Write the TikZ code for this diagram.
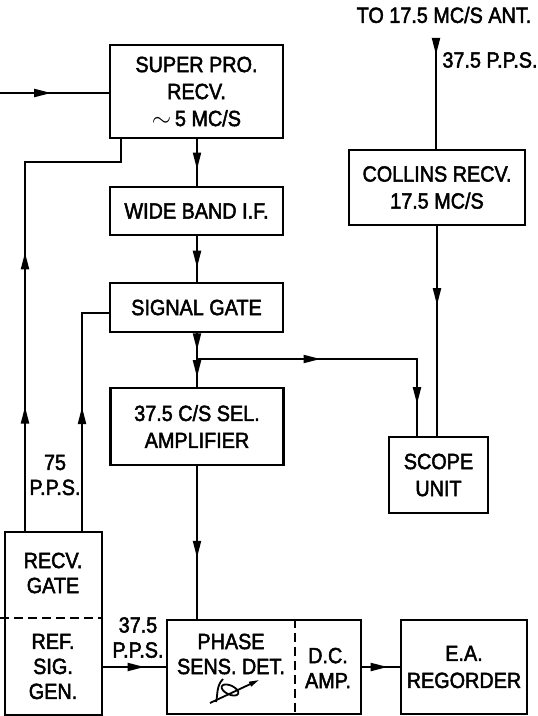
\documentclass[tikz,border=0pt]{standalone}
\usepackage{fontspec}
\setmainfont{Liberation Sans}
\newfontfamily\labfont[FakeStretch=0.9,FakeBold=2.2]{Liberation Sans}
\usetikzlibrary{arrows.meta,decorations.markings}
\tikzset{
  tri/.tip={Triangle[length=17pt,width=8pt]},
  box/.style={draw, line width=2.2pt, inner sep=0pt, align=center,
    font=\labfont\fontsize{22}{27}\selectfont},
  lab/.style={inner sep=0pt, align=center, font=\labfont\fontsize{22}{25}\selectfont},
  wire/.style={line width=2pt},
  arr/.style={postaction={decorate}, decoration={markings,
    mark=at position #1 with {\arrow{tri}}}},
  arrtwo/.style 2 args={postaction={decorate}, decoration={markings,
    mark=at position #1 with {\arrow{tri}},
    mark=at position #2 with {\arrow{tri}}}},
}
\begin{document}
\begin{tikzpicture}[x=1pt,y=-1pt]
\useasboundingbox (0,0) rectangle (538,716);

% boxes
\node[box, minimum width=173pt, minimum height=93pt] (super) at (196.5,91.5)
  {SUPER PRO.\\RECV.\\{\fontsize{26}{27}\selectfont$\sim$}\,5 MC/S};
\node[box, minimum width=173pt, minimum height=48pt] (wide) at (196.5,211) {WIDE BAND I.F.};
\node[box, minimum width=173pt, minimum height=49pt] (sgate) at (196.5,307.5) {SIGNAL GATE};
\node[box, minimum width=173pt, minimum height=77pt] (amp) at (197,426.5)
  {37.5 C/S SEL.\\AMPLIFIER};
\node[box, minimum width=176pt, minimum height=75pt] (collins) at (437,187.5)
  {COLLINS RECV.\\17.5 MC/S};
\node[box, minimum width=99pt, minimum height=76pt] (scope) at (438.5,475) {SCOPE\\UNIT};
\node[box, minimum width=97pt, minimum height=183pt] (gen) at (53.5,623.5) {};
\node[box, minimum width=194pt, minimum height=94pt] (phase) at (264,667) {};
\node[box, minimum width=126pt, minimum height=94pt] (rec) at (464,667) {E.A.\\REGORDER};

% texts inside split boxes
\node[lab] (gatetxt) at (53,573) {RECV.\\GATE};
\node[lab] (reftxt) at (53,666.5) {REF.\\SIG.\\GEN.};
\node[lab] (phtxt) at (231,654) {PHASE\\SENS. DET.};
\node[lab] (dctxt) at (328,668) {D.C.\\AMP.};

% dividers
\coordinate (dl) at (0,618);
\draw[wire, dash pattern=on 9pt off 5pt] (dl) -- (dl -| gen.east);
\coordinate (pd) at (295,0);
\draw[wire, dash pattern=on 9pt off 5pt] (pd |- phase.north) -- (pd |- phase.south);

% phase symbol
\coordinate (sa) at (210,703);
\coordinate (sb) at (259,680);
\draw[line width=1.8pt, -{Triangle[length=10pt,width=5pt]}] (sa) -- (sb);
\draw[line width=1.8pt, rotate around={-25:(230,690)}] (230,690) ellipse (9pt and 4.5pt);
\coordinate (sc) at (223,679);
\coordinate (sd) at (216,702);
\draw[line width=1.8pt] (sc) .. controls (216,686) and (218,695) .. (sd);

% labels
\node[lab] (antlab) at (444,15) {TO 17.5 MC/S ANT.};
\node[lab] (ppsant) at (490,60) {37.5 P.P.S.};
\node[lab] (pps75) at (55,475) {75\\P.P.S.};
\node[lab] (pps37) at (138,637.5) {37.5\\P.P.S.};

% connectors
\coordinate (in) at (0,93);
\draw[wire, arr=0.47] (in) -- (in -| super.west);
\coordinate (sx) at (197,0);
\draw[wire, arr=0.65] (sx |- super.south) -- (sx |- wide.north);
\draw[wire, arr=0.69] (sx |- wide.south) -- (sx |- sgate.north);
\draw[wire, arrtwo={0.32}{0.82}] (sx |- sgate.south) -- (sx |- amp.north);
\coordinate (br) at (197,359);
\coordinate (bx) at (417,0);
\draw[wire, arrtwo={0.416}{0.893}] (br) -- (br -| bx) -- (bx |- scope.north);
\coordinate (ant) at (436,45);
\draw[wire, arr=0.095] (ant) -- (ant |- collins.north);
\coordinate (cx) at (437,0);
\draw[wire, arr=0.377] (cx |- collins.south) -- (cx |- scope.north);
\draw[wire, arr=0.6] (sx |- amp.south) -- (sx |- phase.north);

% feedback lines from recv gate
\coordinate (fa) at (25,162);
\coordinate (fb) at (121,162);
\draw[wire, arrtwo={0.255}{0.571}] (fa |- gen.north) -- (fa) -- (fb) -- (fb |- super.south);
\coordinate (fc) at (82,313);
\draw[wire, arr=0.506] (fc |- gen.north) -- (fc) -- (fc -| sgate.west);

% bottom row
\coordinate (by) at (0,667);
\draw[wire, arr=0.66] (by -| gen.east) -- (by -| phase.west);
\draw[wire, arr=0.675] (by -| phase.east) -- (by -| rec.west);
\end{tikzpicture}
\end{document}
